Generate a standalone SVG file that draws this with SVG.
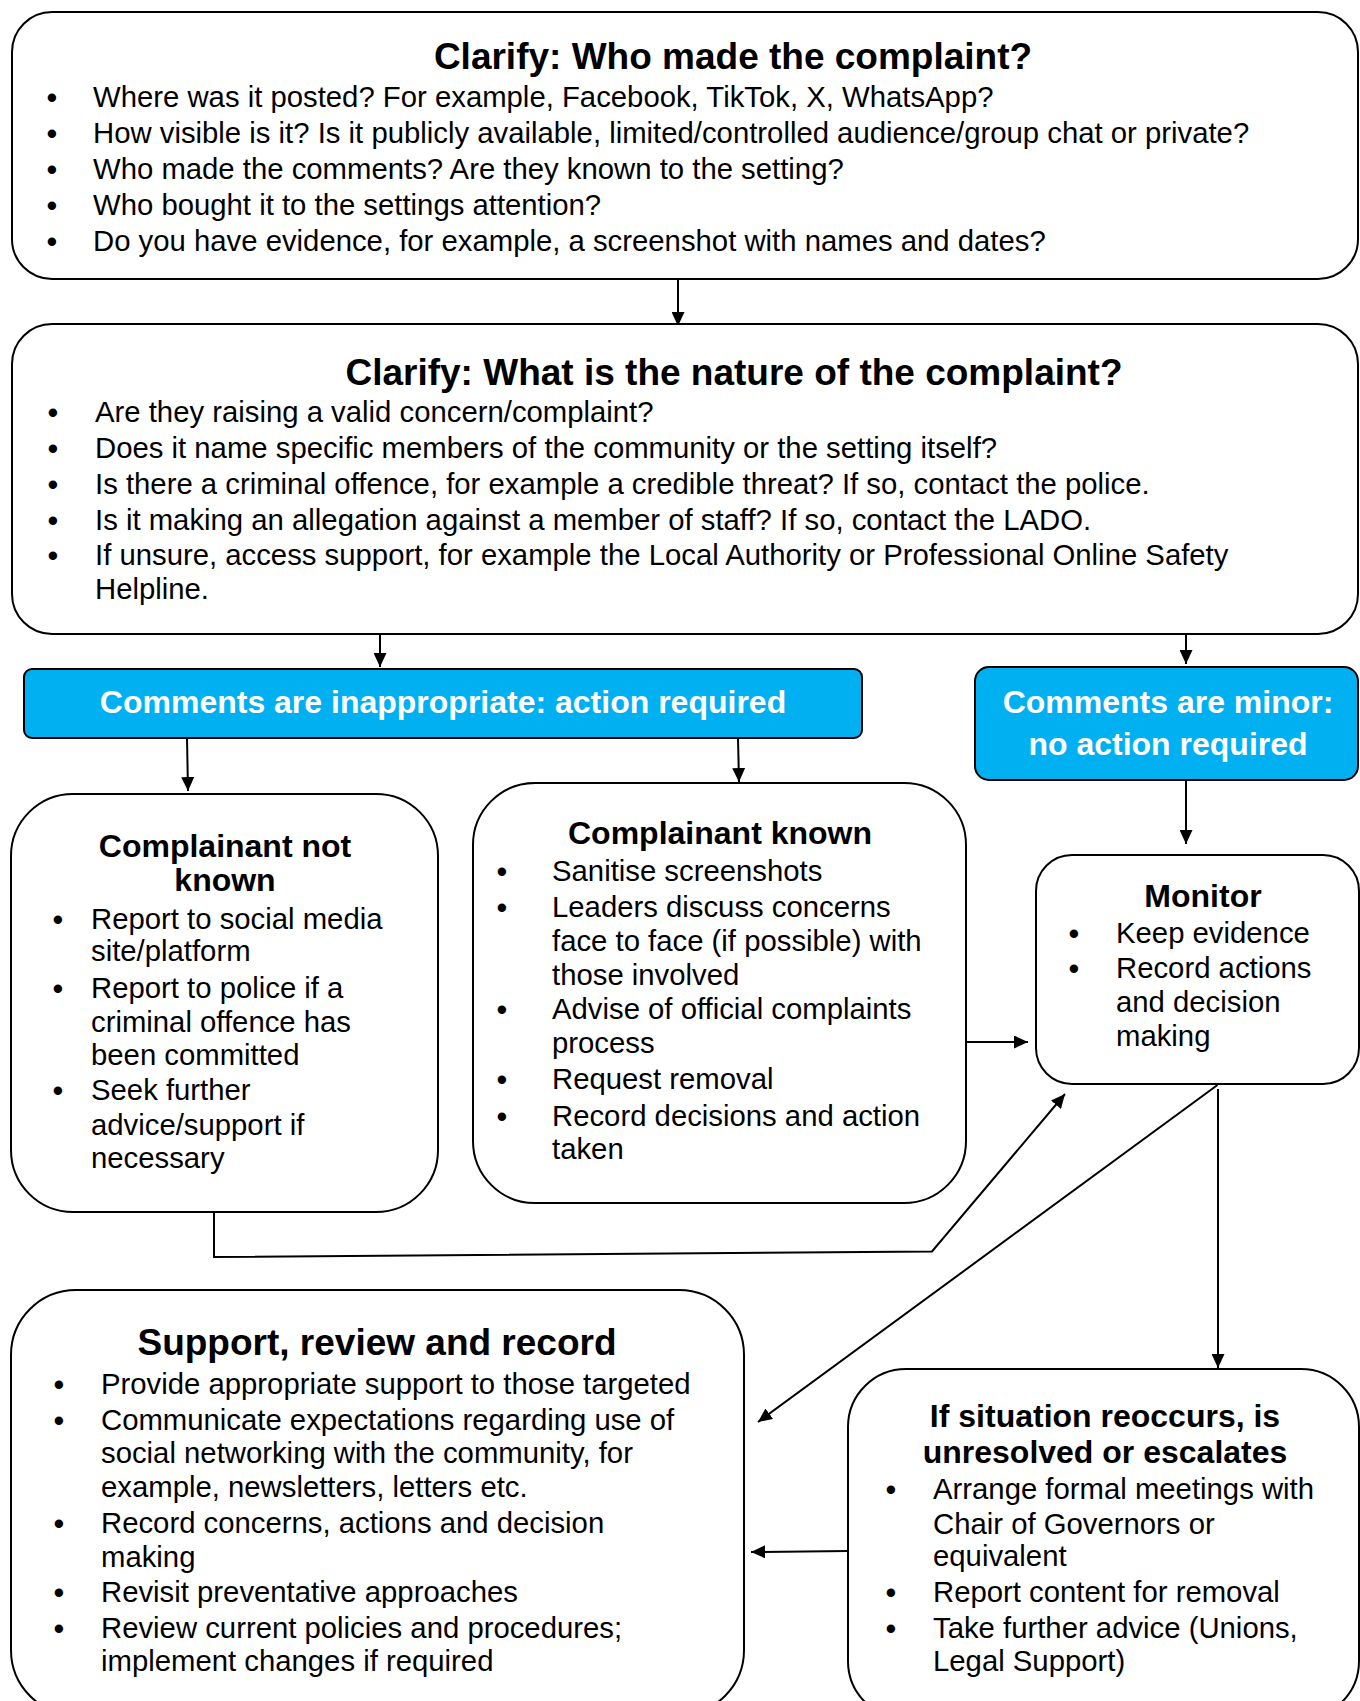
<svg xmlns="http://www.w3.org/2000/svg" width="1360" height="1701" viewBox="0 0 1360 1701">
<defs>
<style>
.box{fill:#fff;stroke:#000;stroke-width:2}
.blue{fill:#00B0F0;stroke:#000;stroke-width:2}
text{font-family:"Liberation Sans",Arial,sans-serif;fill:#000}
.t{font-size:37px;font-weight:bold;text-anchor:middle}
.h{font-size:32px;font-weight:bold;text-anchor:middle}
.w{font-size:32px;font-weight:bold;text-anchor:middle;fill:#fff}
.b{font-size:29.3px}
.d{font-size:29.3px;font-weight:bold;text-anchor:middle}
.c{fill:none;stroke:#000;stroke-width:2}
</style>
<marker id="ah" viewBox="0 0 14 13" markerWidth="14" markerHeight="13" refX="14" refY="6.5" orient="auto" markerUnits="userSpaceOnUse">
<path d="M0,0 L14,6.5 L0,13 z" fill="#000"/>
</marker>
</defs>
<rect width="1360" height="1701" fill="#fff"/>

<g id="connectors">
<line class="c" x1="678" y1="280" x2="678" y2="326" marker-end="url(#ah)"/>
<line class="c" x1="380" y1="634" x2="380" y2="667" marker-end="url(#ah)"/>
<line class="c" x1="1186" y1="634" x2="1186" y2="664" marker-end="url(#ah)"/>
<line class="c" x1="187" y1="738" x2="188" y2="791" marker-end="url(#ah)"/>
<line class="c" x1="738" y1="738" x2="739" y2="782" marker-end="url(#ah)"/>
<line class="c" x1="1186" y1="781" x2="1186" y2="844" marker-end="url(#ah)"/>
<line class="c" x1="966" y1="1042" x2="1028" y2="1042" marker-end="url(#ah)"/>
<polyline class="c" points="214,1213 214,1257 932,1251.5 1065,1094" marker-end="url(#ah)"/>
<line class="c" x1="1217.5" y1="1085" x2="758" y2="1422" marker-end="url(#ah)"/>
<line class="c" x1="1218" y1="1089" x2="1218" y2="1368" marker-end="url(#ah)"/>
<line class="c" x1="848" y1="1551" x2="751" y2="1552" marker-end="url(#ah)"/>
</g>

<g id="who">
<rect class="box" x="12" y="12" width="1346" height="267" rx="40"/>
<text class="t" x="733" y="69">Clarify: Who made the complaint?</text>
<text class="d" x="52" y="108">•</text><text class="b" x="93" y="107">Where was it posted? For example, Facebook, TikTok, X, WhatsApp?</text>
<text class="d" x="52" y="144">•</text><text class="b" x="93" y="143">How visible is it? Is it publicly available, limited/controlled audience/group chat or private?</text>
<text class="d" x="52" y="180">•</text><text class="b" x="93" y="179">Who made the comments? Are they known to the setting?</text>
<text class="d" x="52" y="216">•</text><text class="b" x="93" y="215">Who bought it to the settings attention?</text>
<text class="d" x="52" y="252">•</text><text class="b" x="93" y="251">Do you have evidence, for example, a screenshot with names and dates?</text>
</g>

<g id="nature">
<rect class="box" x="12" y="324" width="1346" height="310" rx="40"/>
<text class="t" x="734" y="385">Clarify: What is the nature of the complaint?</text>
<text class="d" x="53" y="423">•</text><text class="b" x="95" y="422">Are they raising a valid concern/complaint?</text>
<text class="d" x="53" y="459">•</text><text class="b" x="95" y="458">Does it name specific members of the community or the setting itself?</text>
<text class="d" x="53" y="495">•</text><text class="b" x="95" y="494">Is there a criminal offence, for example a credible threat? If so, contact the police.</text>
<text class="d" x="53" y="531">•</text><text class="b" x="95" y="530">Is it making an allegation against a member of staff? If so, contact the LADO.</text>
<text class="d" x="53" y="566">•</text><text class="b" x="95" y="565">If unsure, access support, for example the Local Authority or Professional Online Safety</text>
<text class="b" x="95" y="599">Helpline.</text>
</g>

<g id="inappropriate">
<rect class="blue" x="24" y="669" width="838" height="69" rx="8"/>
<text class="w" x="443" y="713">Comments are inappropriate: action required</text>
</g>

<g id="minor">
<rect class="blue" x="975" y="667" width="383" height="113" rx="14"/>
<text class="w" x="1168" y="713">Comments are minor:</text>
<text class="w" x="1168" y="755">no action required</text>
</g>

<g id="not-known">
<rect class="box" x="11" y="794" width="427" height="418" rx="62"/>
<text class="h" x="225" y="857">Complainant not</text>
<text class="h" x="225" y="891">known</text>
<text class="d" x="58" y="930">•</text><text class="b" x="91" y="929">Report to social media</text>
<text class="b" x="91" y="961">site/platform</text>
<text class="d" x="58" y="999">•</text><text class="b" x="91" y="998">Report to police if a</text>
<text class="b" x="91" y="1032">criminal offence has</text>
<text class="b" x="91" y="1065">been committed</text>
<text class="d" x="58" y="1101">•</text><text class="b" x="91" y="1100">Seek further</text>
<text class="b" x="91" y="1135">advice/support if</text>
<text class="b" x="91" y="1168">necessary</text>
</g>

<g id="known">
<rect class="box" x="473" y="783" width="493" height="420" rx="62"/>
<text class="h" x="720" y="844">Complainant known</text>
<text class="d" x="502" y="882">•</text><text class="b" x="552" y="881">Sanitise screenshots</text>
<text class="d" x="502" y="918">•</text><text class="b" x="552" y="917">Leaders discuss concerns</text>
<text class="b" x="552" y="951">face to face (if possible) with</text>
<text class="b" x="552" y="985">those involved</text>
<text class="d" x="502" y="1020">•</text><text class="b" x="552" y="1019">Advise of official complaints</text>
<text class="b" x="552" y="1053">process</text>
<text class="d" x="502" y="1090">•</text><text class="b" x="552" y="1089">Request removal</text>
<text class="d" x="502" y="1127">•</text><text class="b" x="552" y="1126">Record decisions and action</text>
<text class="b" x="552" y="1159">taken</text>
</g>

<g id="monitor">
<rect class="box" x="1036" y="855" width="323" height="229" rx="36"/>
<text class="h" x="1203" y="907">Monitor</text>
<text class="d" x="1074" y="944">•</text><text class="b" x="1116" y="943">Keep evidence</text>
<text class="d" x="1074" y="979">•</text><text class="b" x="1116" y="978">Record actions</text>
<text class="b" x="1116" y="1012">and decision</text>
<text class="b" x="1116" y="1046">making</text>
</g>

<g id="support">
<rect class="box" x="11" y="1290" width="733" height="425" rx="65"/>
<text class="t" x="377" y="1355">Support, review and record</text>
<text class="d" x="59" y="1395">•</text><text class="b" x="101" y="1394">Provide appropriate support to those targeted</text>
<text class="d" x="59" y="1431">•</text><text class="b" x="101" y="1430">Communicate expectations regarding use of</text>
<text class="b" x="101" y="1463">social networking with the community, for</text>
<text class="b" x="101" y="1497">example, newsletters, letters etc.</text>
<text class="d" x="59" y="1534">•</text><text class="b" x="101" y="1533">Record concerns, actions and decision</text>
<text class="b" x="101" y="1567">making</text>
<text class="d" x="59" y="1603">•</text><text class="b" x="101" y="1602">Revisit preventative approaches</text>
<text class="d" x="59" y="1639">•</text><text class="b" x="101" y="1638">Review current policies and procedures;</text>
<text class="b" x="101" y="1671">implement changes if required</text>
</g>

<g id="escalates">
<rect class="box" x="848" y="1369" width="511" height="350" rx="58"/>
<text class="h" x="1105" y="1427">If situation reoccurs, is</text>
<text class="h" x="1105" y="1463">unresolved or escalates</text>
<text class="d" x="891" y="1500">•</text><text class="b" x="933" y="1499">Arrange formal meetings with</text>
<text class="b" x="933" y="1534">Chair of Governors or</text>
<text class="b" x="933" y="1566">equivalent</text>
<text class="d" x="891" y="1603">•</text><text class="b" x="933" y="1602">Report content for removal</text>
<text class="d" x="891" y="1639">•</text><text class="b" x="933" y="1638">Take further advice (Unions,</text>
<text class="b" x="933" y="1671">Legal Support)</text>
</g>
</svg>
